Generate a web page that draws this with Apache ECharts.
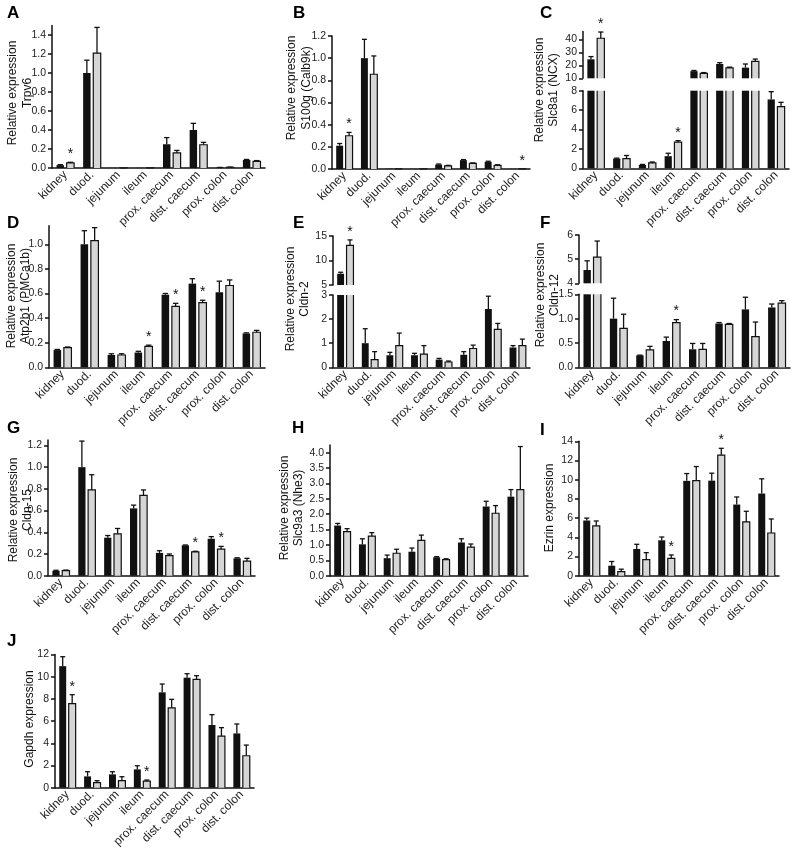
<!DOCTYPE html>
<html><head><meta charset="utf-8">
<script src="https://cdn.jsdelivr.net/npm/echarts@6/dist/echarts.min.js"></script>
<style>html,body{margin:0;padding:0;background:#fff}#c{width:800px;height:850px}</style>
</head><body><div id="c"></div><script>
const categories = ['kidney','duod.','jejunum','ileum','prox. caecum','dist. caecum','prox. colon','dist. colon'];

// A: Trpv6
const trpv6Black    = [0.03, 1.00, 0.001, 0.001, 0.25, 0.40, 0.005, 0.085];
const trpv6BlackErr = [0.035, 1.135, 0.001, 0.001, 0.32, 0.47, 0.006, 0.09];
const trpv6Grey     = [0.055, 1.21, 0.001, 0.001, 0.16, 0.245, 0.008, 0.07];
const trpv6GreyErr  = [0.06, 1.48, 0.001, 0.001, 0.185, 0.27, 0.01, 0.078];
const trpv6Stars = ['kidney'];
const trpv6Ticks = [0, 0.2, 0.4, 0.6, 0.8, 1.0, 1.2, 1.4];

// B: S100g (Calb9k)
const s100gBlack    = [0.21, 1.00, 0.003, 0.001, 0.04, 0.08, 0.065, 0.001];
const s100gBlackErr = [0.23, 1.17, 0.003, 0.001, 0.045, 0.085, 0.07, 0.001];
const s100gGrey     = [0.30, 0.855, 0.001, 0.001, 0.028, 0.05, 0.033, 0.0005];
const s100gGreyErr  = [0.33, 1.02, 0.001, 0.001, 0.033, 0.055, 0.038, 0.0005];
const s100gStars = ['kidney', 'dist. colon'];
const s100gTicks = [0, 0.2, 0.4, 0.6, 0.8, 1.0, 1.2];

// C: Slc8a1 (NCX) - broken axis
const slc8a1Black    = [24.6, 1.0, 0.35, 1.25, 15.5, 21.0, 18.2, 7.1];
const slc8a1BlackErr = [26.7, 1.05, 0.4, 1.55, 16.0, 22.0, 21.0, 7.9];
const slc8a1Grey     = [40.8, 1.0, 0.55, 2.7, 13.8, 18.0, 23.0, 6.35];
const slc8a1GreyErr  = [45.6, 1.32, 0.65, 2.85, 14.4, 18.6, 24.8, 6.8];
const slc8a1Stars = ['kidney', 'ileum'];
const slc8a1TicksLow = [0, 2, 4, 6, 8];
const slc8a1TicksHigh = [10, 20, 30, 40];

// D: Atp2b1 (PMCa1b)
const atp2b1Black    = [0.14, 1.0, 0.10, 0.12, 0.59, 0.68, 0.61, 0.275];
const atp2b1BlackErr = [0.145, 1.11, 0.11, 0.13, 0.60, 0.72, 0.70, 0.28];
const atp2b1Grey     = [0.16, 1.03, 0.10, 0.17, 0.495, 0.525, 0.665, 0.285];
const atp2b1GreyErr  = [0.165, 1.135, 0.11, 0.18, 0.52, 0.545, 0.71, 0.30];
const atp2b1Stars = ['ileum', 'prox. caecum', 'dist. caecum'];
const atp2b1Ticks = [0, 0.2, 0.4, 0.6, 0.8, 1.0];

// E: Cldn-2 - broken axis
const cldn2Black    = [7.3, 1.0, 0.5, 0.5, 0.32, 0.52, 2.42, 0.82];
const cldn2BlackErr = [7.6, 1.6, 0.62, 0.58, 0.37, 0.65, 2.95, 0.9];
const cldn2Grey     = [13.1, 0.32, 0.9, 0.55, 0.22, 0.78, 1.57, 0.9];
const cldn2GreyErr  = [14.2, 0.65, 1.42, 0.9, 0.26, 0.92, 1.82, 1.17];
const cldn2Stars = ['kidney'];
const cldn2TicksLow = [0, 1, 2, 3];
const cldn2TicksHigh = [5, 10, 15];

// F: Cldn-12 - broken axis
const cldn12Black    = [4.55, 1.0, 0.245, 0.54, 0.37, 0.9, 1.19, 1.23];
const cldn12BlackErr = [4.93, 1.42, 0.25, 0.62, 0.49, 0.92, 1.44, 1.3];
const cldn12Grey     = [5.08, 0.8, 0.36, 0.92, 0.37, 0.88, 0.63, 1.32];
const cldn12GreyErr  = [5.75, 1.09, 0.43, 0.98, 0.49, 0.9, 0.93, 1.37];
const cldn12Stars = ['ileum'];
const cldn12TicksLow = [0, 0.5, 1.0, 1.5];
const cldn12TicksHigh = [4, 5, 6];

// G: Cldn-15
const cldn15Black    = [0.045, 1.0, 0.35, 0.62, 0.21, 0.28, 0.34, 0.16];
const cldn15BlackErr = [0.05, 1.24, 0.37, 0.65, 0.23, 0.283, 0.36, 0.165];
const cldn15Grey     = [0.047, 0.79, 0.385, 0.74, 0.185, 0.22, 0.245, 0.135];
const cldn15GreyErr  = [0.052, 0.93, 0.435, 0.79, 0.2, 0.225, 0.27, 0.16];
const cldn15Stars = ['dist. caecum', 'prox. colon'];
const cldn15Ticks = [0, 0.2, 0.4, 0.6, 0.8, 1.0, 1.2];

// H: Slc9a3 (Nhe3)
const slc9a3Black    = [1.63, 1.02, 0.57, 0.78, 0.6, 1.08, 2.25, 2.57];
const slc9a3BlackErr = [1.7, 1.2, 0.67, 0.9, 0.62, 1.2, 2.42, 2.8];
const slc9a3Grey     = [1.43, 1.29, 0.73, 1.15, 0.52, 0.93, 2.03, 2.8];
const slc9a3GreyErr  = [1.53, 1.4, 0.86, 1.32, 0.55, 1.03, 2.28, 4.2];
const slc9a3Stars = [];
const slc9a3Ticks = [0, 0.5, 1.0, 1.5, 2.0, 2.5, 3.0, 3.5, 4.0];

// I: Ezrin
const ezrinBlack    = [5.75, 1.04, 2.78, 3.69, 9.88, 9.9, 7.41, 8.56];
const ezrinBlackErr = [6.0, 1.48, 3.27, 4.03, 10.64, 10.68, 8.2, 10.09];
const ezrinGrey     = [5.18, 0.43, 1.67, 1.81, 9.9, 12.57, 5.6, 4.45];
const ezrinGreyErr  = [5.7, 0.68, 2.4, 2.16, 11.37, 13.27, 6.71, 5.91];
const ezrinStars = ['ileum', 'dist. caecum'];
const ezrinTicks = [0, 2, 4, 6, 8, 10, 12, 14];

// J: Gapdh
const gapdhBlack    = [10.95, 1.02, 1.2, 1.65, 8.59, 9.91, 5.65, 4.89];
const gapdhBlackErr = [11.8, 1.44, 1.44, 1.98, 9.34, 10.27, 6.58, 5.74];
const gapdhGrey     = [7.57, 0.45, 0.63, 0.6, 7.2, 9.76, 4.65, 2.88];
const gapdhGreyErr  = [8.38, 0.63, 0.99, 0.69, 7.96, 10.09, 5.41, 3.84];
const gapdhStars = ['kidney', 'ileum'];
const gapdhTicks = [0, 2, 4, 6, 8, 10, 12];

const panels = [
  {letter:'A', name:['Relative expression','Trpv6'], black:trpv6Black, blackErr:trpv6BlackErr, grey:trpv6Grey, greyErr:trpv6GreyErr, stars:trpv6Stars,
   segments:[{ticks:trpv6Ticks, min:0, max:1.5, dec:1}]},
  {letter:'B', name:['Relative expression','S100g (Calb9k)'], black:s100gBlack, blackErr:s100gBlackErr, grey:s100gGrey, greyErr:s100gGreyErr, stars:s100gStars,
   segments:[{ticks:s100gTicks, min:0, max:1.2, dec:1}]},
  {letter:'C', name:['Relative expression','Slc8a1 (NCX)'], black:slc8a1Black, blackErr:slc8a1BlackErr, grey:slc8a1Grey, greyErr:slc8a1GreyErr, stars:slc8a1Stars,
   segments:[{ticks:slc8a1TicksLow, min:0, max:8, dec:0},{ticks:slc8a1TicksHigh, min:10, max:46, dec:0}]},
  {letter:'D', name:['Relative expression','Atp2b1 (PMCa1b)'], black:atp2b1Black, blackErr:atp2b1BlackErr, grey:atp2b1Grey, greyErr:atp2b1GreyErr, stars:atp2b1Stars,
   segments:[{ticks:atp2b1Ticks, min:0, max:1.15, dec:1}]},
  {letter:'E', name:['Relative expression','Cldn-2'], black:cldn2Black, blackErr:cldn2BlackErr, grey:cldn2Grey, greyErr:cldn2GreyErr, stars:cldn2Stars,
   segments:[{ticks:cldn2TicksLow, min:0, max:3, dec:0},{ticks:cldn2TicksHigh, min:5, max:15, dec:0}]},
  {letter:'F', name:['Relative expression','Cldn-12'], black:cldn12Black, blackErr:cldn12BlackErr, grey:cldn12Grey, greyErr:cldn12GreyErr, stars:cldn12Stars,
   segments:[{ticks:cldn12TicksLow, min:0, max:1.5, dec:1},{ticks:cldn12TicksHigh, min:4, max:6, dec:0}]},
  {letter:'G', name:['Relative expression','Cldn-15'], black:cldn15Black, blackErr:cldn15BlackErr, grey:cldn15Grey, greyErr:cldn15GreyErr, stars:cldn15Stars,
   segments:[{ticks:cldn15Ticks, min:0, max:1.25, dec:1}]},
  {letter:'H', name:['Relative expression','Slc9a3 (Nhe3)'], black:slc9a3Black, blackErr:slc9a3BlackErr, grey:slc9a3Grey, greyErr:slc9a3GreyErr, stars:slc9a3Stars,
   segments:[{ticks:slc9a3Ticks, min:0, max:4.25, dec:1}]},
  {letter:'I', name:['Ezrin expression'], black:ezrinBlack, blackErr:ezrinBlackErr, grey:ezrinGrey, greyErr:ezrinGreyErr, stars:ezrinStars,
   segments:[{ticks:ezrinTicks, min:0, max:14, dec:0}]},
  {letter:'J', name:['Gapdh expression'], black:gapdhBlack, blackErr:gapdhBlackErr, grey:gapdhGrey, greyErr:gapdhGreyErr, stars:gapdhStars,
   segments:[{ticks:gapdhTicks, min:0, max:12, dec:0}]}
];

// layout (pixels)
const layouts = [
  {left:52,  width:213, segs:[{top:25.5, height:142.5}], lx:7,   ly:5,   nx:20,    ny:93},
  {left:332, width:198, segs:[{top:36, height:133}],     lx:293, ly:5,   nx:299,   ny:88},
  {left:583, width:206, segs:[{top:90.7, height:77.6},{top:31.5, height:46.8}], lx:540, ly:5, nx:546.5, ny:90},
  {left:49,  width:216, segs:[{top:225.8, height:141.5}], lx:7,  ly:215, nx:18.5,  ny:296},
  {left:333, width:197, segs:[{top:295, height:72.3},{top:236, height:49}], lx:293, ly:215, nx:297.5, ny:299},
  {left:579, width:211, segs:[{top:294.3, height:73},{top:235, height:48.3}], lx:540, ly:215, nx:547.5, ny:295},
  {left:48,  width:207, segs:[{top:440, height:135.7}], lx:7,   ly:420, nx:20.5,  ny:510},
  {left:330, width:198, segs:[{top:445, height:130.7}], lx:292, ly:420, nx:291.5, ny:508},
  {left:579, width:200, segs:[{top:441.3, height:134.4}], lx:540, ly:422, nx:550, ny:508},
  {left:55,  width:199, segs:[{top:654.5, height:133.2}], lx:7,   ly:633, nx:30,    ny:719}
];

const FONT = 'Liberation Sans, Arial, Helvetica, sans-serif';
const BAR_W = 0.28, BAR_GAP = 0.36;
const INK = '#111';
const GREY = '#d6d6d6';
const NAME_LINE = 14.5;

function barCenter(api, i, side) {
  const band = api.size([1, 0])[0];
  const bw = band * BAR_W;
  return { x: api.coord([i, 0])[0] + side * (bw + bw * BAR_GAP) / 2, bw };
}
// error bars (upward only) + open-ended outline of grey bars
function errRender(params, api) {
  const kind = api.value(4);
  const i = api.value(0), v = api.value(1), e = api.value(2), side = api.value(3);
  const c = barCenter(api, i, side);
  const cs = params.coordSys;
  if (kind === 1) {
    const yBot = cs.y + cs.height;
    const yv = api.coord([i, v])[1];
    const xl = c.x - c.bw / 2, xr = c.x + c.bw / 2;
    if (yv >= cs.y - 0.01) {
      return { type: 'polyline', shape: { points: [[xl, yBot], [xl, yv], [xr, yv], [xr, yBot]] }, style: { stroke: INK, lineWidth: 1.2, fill: null } };
    }
    return { type: 'group', children: [
      { type: 'line', shape: { x1: xl, y1: yBot, x2: xl, y2: cs.y }, style: { stroke: INK, lineWidth: 1.2 } },
      { type: 'line', shape: { x1: xr, y1: yBot, x2: xr, y2: cs.y }, style: { stroke: INK, lineWidth: 1.2 } }
    ]};
  }
  const y0 = api.coord([i, v])[1], y1 = api.coord([i, e])[1];
  const hw = c.bw * 0.36;
  return { type: 'group', children: [
    { type: 'line', shape: { x1: c.x, y1: y0, x2: c.x, y2: y1 }, style: { stroke: INK, lineWidth: 1.3 } },
    { type: 'line', shape: { x1: c.x - hw, y1: y1, x2: c.x + hw, y2: y1 }, style: { stroke: INK, lineWidth: 1.3 } }
  ]};
}
function starRender(params, api) {
  const i = api.value(0), e = api.value(1);
  const c = barCenter(api, i, 1);
  const y = api.coord([i, e])[1];
  return { type: 'text', x: c.x, y: y - 1, style: { text: '*', fontSize: 14, fontFamily: FONT, fill: INK, align: 'center', verticalAlign: 'bottom' } };
}

const option = { animation: false, backgroundColor: '#fff', grid: [], xAxis: [], yAxis: [], series: [], graphic: [] };

panels.forEach((p, pi) => {
  const L = layouts[pi];
  p.segments.forEach((s, si) => {
    const g = L.segs[si];
    const idx = option.grid.length;
    const isBottom = si === 0;
    option.grid.push({ left: L.left, top: g.top, width: L.width, height: g.height, containLabel: false, outerBoundsMode: 'none' });
    option.xAxis.push({
      type: 'category', gridIndex: idx, data: categories, show: isBottom,
      axisLine: { show: true, lineStyle: { color: INK, width: 1.5 } },
      axisTick: { show: false },
      axisLabel: { rotate: 45, interval: 0, margin: 5, fontSize: 12, fontFamily: FONT, color: '#222' },
      splitLine: { show: false }
    });
    option.yAxis.push({
      type: 'value', gridIndex: idx, min: s.min, max: s.max,
      axisLine: { show: true, lineStyle: { color: INK, width: 1.5 } },
      axisTick: { show: true, length: 4, inside: false, customValues: s.ticks, lineStyle: { color: INK, width: 1.5 } },
      axisLabel: { customValues: s.ticks, margin: 6, fontSize: 10.5, fontFamily: FONT, color: '#222', formatter: v => Number(v).toFixed(s.dec) },
      splitLine: { show: false }
    });
    const seg = arr => arr.map(v => (v < s.min ? '-' : v));
    option.series.push({ type: 'bar', xAxisIndex: idx, yAxisIndex: idx, data: seg(p.black), barWidth: (BAR_W * 100) + '%', barGap: (BAR_GAP * 100) + '%', clip: true, silent: true,
      itemStyle: { color: '#111', borderWidth: 0 } });
    option.series.push({ type: 'bar', xAxisIndex: idx, yAxisIndex: idx, data: seg(p.grey), barWidth: (BAR_W * 100) + '%', barGap: (BAR_GAP * 100) + '%', clip: true, silent: true,
      itemStyle: { color: GREY, borderWidth: 0 } });
    const errData = [];
    categories.forEach((c, i) => {
      const gv = p.grey[i];
      if (gv >= s.min) errData.push([i, gv, gv, 1, 1]);
      [[p.black, p.blackErr, -1], [p.grey, p.greyErr, 1]].forEach(([vals, errs, side]) => {
        const v = vals[i], e = errs[i];
        if (e > v && v >= s.min && v <= s.max) errData.push([i, v, e, side, 0]);
      });
    });
    option.series.push({ type: 'custom', xAxisIndex: idx, yAxisIndex: idx, data: errData, renderItem: errRender, silent: true, clip: false, z: 3 });
    const starData = p.stars.map(name => categories.indexOf(name))
      .filter(i => { const e = Math.max(p.grey[i], p.greyErr[i]); return e >= s.min && e <= s.max; })
      .map(i => [i, Math.max(p.grey[i], p.greyErr[i])]);
    if (starData.length) option.series.push({ type: 'custom', xAxisIndex: idx, yAxisIndex: idx, data: starData, renderItem: starRender, silent: true, clip: false, z: 5 });
  });
  option.graphic.push({ type: 'text', x: L.lx, y: L.ly, style: { text: p.letter, fontSize: 17, fontWeight: 'bold', fontFamily: FONT, fill: '#000', verticalAlign: 'top' } });
  const n = p.name.length;
  p.name.forEach((line, li) => {
    option.graphic.push({ type: 'text', x: L.nx + (li - (n - 1) / 2) * NAME_LINE, y: L.ny, rotation: Math.PI / 2,
      style: { text: line, fontSize: 12, fontFamily: FONT, fill: '#111', align: 'center', verticalAlign: 'middle' } });
  });
});

const chart = echarts.init(document.getElementById('c'), null, { renderer: 'canvas' });
chart.setOption(option);
</script></body></html>
